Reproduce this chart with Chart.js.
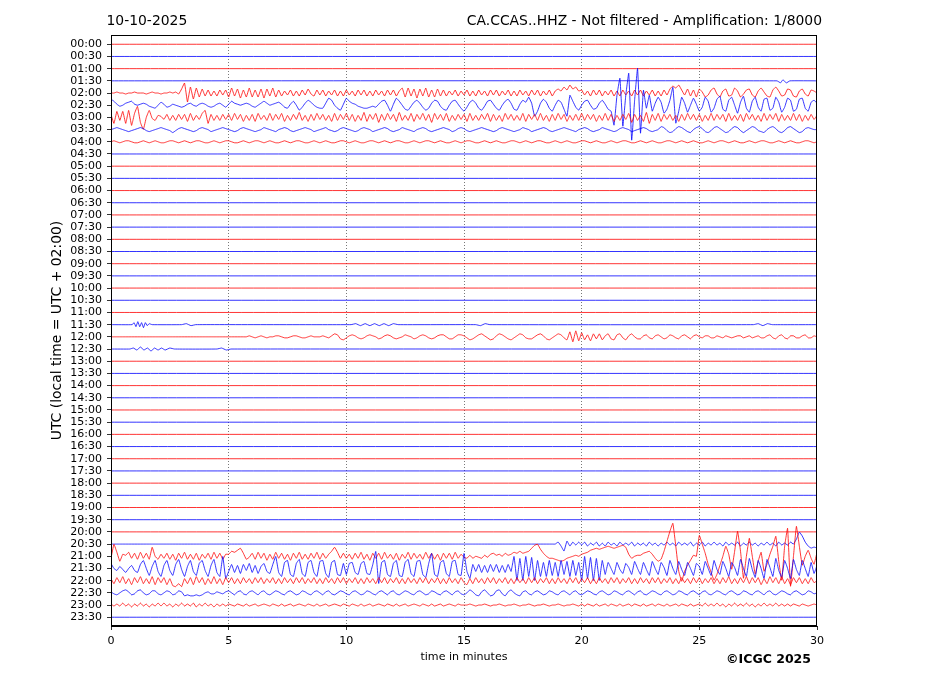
<!DOCTYPE html>
<html>
<head>
<meta charset="utf-8">
<script src="https://cdn.jsdelivr.net/npm/chart.js@4.4.1/dist/chart.umd.min.js"></script>
<style>
html,body{margin:0;padding:0;background:#fff;}
canvas{display:block;}
</style>
</head>
<body>
<canvas id="c" width="927" height="696"></canvas>
<script>
// ---------- labels ----------
const dateLabel = '10-10-2025';
const stationTitle = 'CA.CCAS..HHZ - Not filtered - Amplification: 1/8000';
const copyright = '\u00A9ICGC 2025';
const xTitle = 'time in minutes';
const yTitle = 'UTC (local time = UTC + 02:00)';
const hourLabels = ['00:00','00:30','01:00','01:30','02:00','02:30','03:00','03:30','04:00','04:30',
  '05:00','05:30','06:00','06:30','07:00','07:30','08:00','08:30','09:00','09:30','10:00','10:30',
  '11:00','11:30','12:00','12:30','13:00','13:30','14:00','14:30','15:00','15:30','16:00','16:30',
  '17:00','17:30','18:00','18:30','19:00','19:30','20:00','20:30','21:00','21:30','22:00','22:30',
  '23:00','23:30'];
const xTicks = [0,5,10,15,20,25,30];

// ---------- sampled amplitudes (counts, positive up), one sample each DT minutes ----------
const DT = 0.125;
const GAIN = 1 / 12.2; // counts -> trace spacing

const TR_0200 = [
 0,0,1,0,0,-1,0,0,1,0,0,0,-1,0,1,0,0,-1,0,0,1,0,1,-1,4,10,-9,6,-6,5,-4,4,-3,3,-3,2,-3,3,-2,3,
 -4,5,-3,4,-5,3,-4,5,-4,3,-4,4,-5,4,-3,5,-4,3,-3,2,-2,3,-3,2,-3,3,-2,4,-1,-3,3,-2,3,-3,2,-2,3,-3,2,-3,
 3,-2,2,-3,3,-2,3,-3,2,-3,3,-2,2,-3,3,-2,3,-3,2,5,-4,5,-3,4,-5,4,-3,5,-4,3,-4,4,-3,3,-3,2,-2,3,-3,2,
 -2,3,-3,2,-3,3,-2,2,-3,3,-2,3,-3,2,-2,3,-3,2,-3,3,-2,2,-3,3,-2,3,-3,2,-2,3,-3,2,4,2,6,3,8,4,6,2,
 3,-2,2,-3,3,-2,3,-3,2,-2,3,-3,2,-3,3,-2,2,-3,3,-2,3,-3,2,-2,3,-3,2,-3,3,-2,4,7,5,8,3,-2,4,-3,3,-4,
 4,1,-4,-2,3,5,-1,-4,2,4,-3,-2,5,2,-4,-1,3,4,-2,-4,2,5,1,-3,-4,3,6,2,-3,-2,4,3,-3,-4,2,4,-1,-3,3,2,0
];
const TR_0230 = [
 6,4,1,-1,0,2,3,4,1,0,1,2,1,-1,-2,-3,0,3,1,-2,-1,1,0,-1,-2,-1,1,2,0,-1,1,2,1,-1,-2,-1,1,2,0,-2,
 1,4,2,1,0,1,2,1,-1,-2,0,2,4,2,0,1,2,3,1,-2,-3,1,4,0,-5,-2,2,5,3,0,-2,-3,-3,2,7,5,0,-3,-5,1,
 7,4,2,1,-1,-2,-3,-3,-2,-1,-2,1,4,5,0,-6,1,7,4,0,-4,-5,-1,3,5,2,-2,-5,-3,2,5,4,-1,-4,-5,0,4,5,1,-3,
 -6,-2,3,5,2,-3,-5,-1,4,5,1,-3,-5,0,4,6,2,-4,-5,1,5,3,8,2,-11,-6,2,6,3,-3,-6,0,5,3,-4,-11,10,4,-2,-5,
 0,4,5,0,-4,-3,2,5,1,-4,-6,-20,10,27,-21,10,32,-35,5,37,-28,15,-3,10,-6,2,8,3,-8,-4,5,18,-18,-6,8,2,-7,0,7,1,
 -6,-2,8,4,-7,-3,6,9,-4,-6,5,8,0,-8,3,9,-3,-7,4,8,-2,-6,6,7,-5,-3,8,3,-7,-2,7,5,-6,-4,6,7,-3,-6,3,5,2
];
const TR_0300 = [
 3,-6,6,-3,6,-6,7,-8,4,11,-5,-12,0,7,-1,-3,2,1,-2,3,-3,2,-3,3,-2,3,-4,4,-3,2,-2,4,7,-6,3,-3,2,-3,3,-2,
 3,-3,4,-2,3,-4,2,-3,3,-4,4,-2,2,-3,4,-3,3,-2,4,-4,2,-3,3,-2,5,-3,2,-4,3,-3,4,-2,3,-3,2,-4,4,-3,3,-2,
 4,-3,3,-4,2,-3,5,-4,3,-2,4,-5,3,-3,4,-2,3,-4,5,-3,2,-3,4,-4,3,-2,4,-3,3,-5,4,-2,3,-3,4,-4,2,-3,3,-2,
 3,-4,4,-3,2,-3,3,-2,4,-4,3,-3,2,-4,4,-2,3,-3,2,-3,4,-4,3,-2,3,-3,4,-3,2,-4,3,-3,4,-2,3,-4,2,-3,3,-3,
 4,-3,3,-2,3,-4,2,-3,4,-3,3,-4,2,-3,3,-2,4,-5,3,-3,2,-4,5,-6,3,-3,4,-4,3,-2,3,-3,2,-4,3,-3,4,-2,3,-3,
 3,-4,2,-3,4,-3,3,-2,3,-4,4,-3,2,-3,3,-4,4,-2,3,-3,2,-4,4,-3,3,-2,4,-4,3,-3,2,-3,4,-3,3,-4,2,-3,3,-2,2
];
const TR_0330 = [
 0,1,2,1,0,-1,-2,-1,0,1,2,1,-1,-2,-1,0,1,2,1,0,-1,-3,-1,1,2,1,0,-1,-2,-1,1,2,1,0,-2,-1,0,1,2,1,
 0,-1,-2,-1,1,2,1,0,-1,-2,-1,0,2,1,0,-1,-2,0,1,2,1,-1,-2,-1,0,1,2,1,0,-2,-1,0,1,2,0,-1,-2,-1,1,2,
 1,0,-1,-2,-1,1,2,1,0,-2,-1,0,1,2,1,-1,-2,-1,0,2,1,0,-1,-2,0,1,2,1,-1,-2,-1,0,1,2,1,0,-2,-1,1,2,
 1,-1,-2,-1,0,1,2,1,0,-1,-2,-1,1,2,1,0,-1,-2,-1,0,2,1,0,-2,-1,0,1,2,1,-1,-2,-1,0,1,2,1,0,-1,-2,0,
 1,2,1,-1,-2,-1,0,2,1,0,-1,-2,-1,1,2,1,0,-2,-1,0,1,2,1,-1,-2,-1,0,3,2,-1,-3,-2,1,3,2,0,-2,-3,0,2,
 3,1,-2,-3,-1,2,3,1,-1,-3,-2,1,3,2,-1,-3,-1,1,3,2,-1,-2,-3,0,2,3,1,-2,-3,-1,2,3,1,-1,-3,-2,1,2,1,0,0
];
const TR_0400 = [
 0,1,0,-1,0,1,1,0,-1,-1,0,1,0,-1,0,1,0,-1,-1,0,1,1,0,-1,0,1,0,-1,0,1,1,0,-1,-1,0,1,0,-1,0,1,
 1,0,-1,-1,0,1,0,-1,0,1,1,0,-1,0,1,0,-1,-1,0,1,0,-1,0,1,1,0,-1,-1,0,1,0,-1,0,1,0,-1,-1,0,1,1,
 0,-1,0,1,0,-1,-1,0,1,1,0,-1,0,1,0,-1,0,1,1,0,-1,-1,0,1,0,-1,0,1,1,0,-1,0,1,0,-1,-1,0,1,0,-1,
 0,1,1,0,-1,-1,0,1,0,-1,0,1,0,-1,-1,0,1,1,0,-1,0,1,0,-1,0,1,1,0,-1,-1,0,1,0,-1,0,1,0,-1,-1,0,
 1,1,0,-1,0,1,0,-1,-1,0,1,0,-1,0,1,1,0,-1,-1,0,1,0,-1,0,1,0,-1,-1,0,1,1,0,-1,0,1,0,-1,0,1,0,
 -1,-1,0,1,0,-1,0,1,1,0,-1,0,1,0,-1,-1,0,1,0,-1,0,1,1,0,-1,-1,0,1,0,-1,0,1,0,-1,-1,0,1,1,0,-1,0
];
const TR_1200 = [
 0,0,0,0,0,0,0,0,0,0,0,0,0,0,0,0,0,0,0,0,0,0,0,0,0,0,0,0,0,0,0,0,0,0,0,0,0,0,0,0,
 0,0,0,0,0,0,0,1,0,-1,0,1,0,-1,0,0,1,1,0,-1,-1,0,1,1,0,-1,-1,0,1,0,0,0,1,0,-1,1,3,2,-2,-3,
 -1,1,2,1,-1,-2,-1,1,2,1,0,-2,-1,1,2,1,-1,-2,-1,0,2,1,0,-2,-1,1,2,1,-1,-2,-1,1,2,2,0,-2,-2,0,2,2,
 1,-1,-3,-2,0,2,3,1,-1,-3,-2,1,3,2,0,-2,-3,-1,1,3,2,-1,-2,-2,0,2,3,1,-2,-3,-1,1,3,2,-1,-3,5,-5,6,-4,
 4,-3,2,-4,3,-2,3,-3,1,3,-2,-3,2,3,-1,-3,1,3,0,-2,-2,1,2,-1,-2,1,2,0,-2,-1,2,1,-1,-2,1,2,0,-2,1,2,
 0,-1,1,1,-1,-1,1,0,-1,1,0,-1,0,1,1,-1,0,1,-1,0,1,-1,-1,1,2,-1,-2,1,2,-1,-2,1,1,-1,-1,1,2,-1,-1,1,0
];
const TR_2030 = [
 0,0,0,0,0,0,0,0,0,0,0,0,0,0,0,0,0,0,0,0,0,0,0,0,0,0,0,0,0,0,0,0,0,0,0,0,0,0,0,0,
 0,0,0,0,0,0,0,0,0,0,0,0,0,0,0,0,0,0,0,0,0,0,0,0,0,0,0,0,0,0,0,0,0,0,0,0,0,0,0,0,
 0,0,0,0,0,0,0,0,0,0,0,0,0,0,0,0,0,0,0,0,0,0,0,0,0,0,0,0,0,0,0,0,0,0,0,0,0,0,0,0,
 0,0,0,0,0,0,0,0,0,0,0,0,0,0,0,0,0,0,0,0,0,0,0,0,0,0,0,0,0,0,0,0,2,-2,-7,3,-2,2,-1,2,
 -1,2,-2,1,-1,2,-2,1,-2,2,-1,1,-2,2,-1,1,-1,2,-2,1,-1,1,-2,2,-1,1,-2,1,-1,2,-1,1,-2,2,-1,1,-1,2,-2,1,
 -1,2,-2,1,-1,2,-1,1,-2,2,-1,1,-1,2,-2,1,-1,2,-1,1,-2,1,-1,2,-1,1,-2,2,-1,1,-1,2,0,5,12,8,2,-2,-4,-3,-4
];
const TR_2100 = [
 -2,12,4,-5,2,1,4,-2,3,-3,4,-2,3,-3,9,0,-3,2,-2,3,-3,2,-4,3,-2,4,-3,2,-3,3,-4,2,-2,3,-3,4,-2,3,-3,2,
 2,5,4,6,8,3,-3,-1,3,-3,4,-2,3,-4,2,-3,4,-2,3,-3,2,-4,3,-2,4,-3,2,-3,3,-2,4,-3,3,-2,2,5,9,4,-2,3,
 -2,2,-3,3,-2,4,-3,2,-4,3,-2,3,-3,4,-2,2,-3,3,-4,2,-2,4,-3,3,-2,2,-3,4,-2,3,-3,2,-4,3,-2,3,-3,4,-2,2,
 -1,-2,1,-2,0,-1,-2,1,-1,2,3,1,2,0,3,1,2,4,3,5,3,4,5,8,11,12,7,3,0,-2,-2,-3,-4,-5,-4,-2,-1,0,1,0,
 2,3,4,6,7,8,7,8,9,10,9,8,9,10,11,9,2,-2,0,1,1,3,4,5,2,-2,-5,-3,5,15,25,33,10,-15,-25,-15,-9,-4,1,0,
 21,12,3,-8,-16,-24,-18,-9,0,10,2,-13,5,25,5,-22,0,18,0,-18,-5,4,-15,-8,2,10,20,-5,-24,10,28,-30,0,30,10,-9,0,6,-2,-8,4
];
const TR_2130 = [
 5,0,-2,2,-1,-4,0,3,-2,-4,4,8,0,-7,2,8,-3,-8,3,8,-2,-7,4,9,-1,-8,2,8,-3,-7,5,8,-2,-8,3,9,-4,-8,12,-10,
 -3,4,-4,3,-5,4,-2,5,-4,3,-5,2,5,-3,-5,4,12,-4,-8,6,8,-6,-8,5,9,-5,-8,6,8,-4,-8,7,8,-5,-9,6,8,-6,-7,5,
 -6,5,6,-4,-6,5,7,-5,-6,4,17,-15,6,8,-6,-8,5,8,-7,-8,6,9,-5,-8,7,8,-6,-9,5,15,-6,-8,6,8,-5,-8,7,8,-6,-7,
 15,-3,-10,4,-3,4,-4,3,-4,4,-3,4,-4,3,-4,4,-3,12,-12,10,-12,12,-8,11,-12,8,-8,6,-8,8,-7,6,-8,8,-6,7,-8,8,-7,6,
 -12,12,-10,11,-12,10,-12,8,-6,6,0,-6,6,-1,-5,5,1,-6,7,0,-6,6,-1,-7,7,0,-6,6,1,-7,8,0,-6,7,-1,-7,6,0,-7,5,
 2,-6,7,0,-7,8,-1,-6,7,0,-8,6,1,-7,9,0,-8,10,-1,-9,8,0,-10,9,1,-8,10,-2,-9,8,0,-10,9,-1,-7,8,0,-8,6,-5,3
];
const TR_2200 = [
 2,-3,3,-2,4,-3,2,-4,3,-2,4,-3,2,-3,4,-4,3,-2,3,-4,2,-5,-6,-3,-6,2,-3,3,-4,4,-2,3,-4,2,-3,4,-3,2,-4,3,
 -2,3,-3,2,-3,3,-2,2,-3,3,-2,3,-3,2,-2,3,-3,2,-3,3,-2,2,-3,3,-2,3,-3,2,-2,3,-3,2,-3,3,-2,2,-3,3,-2,3,
 -3,2,-2,3,-3,2,-3,3,-2,2,-3,3,-2,3,-3,2,-2,3,-3,2,-3,3,-2,2,-3,3,-2,3,-3,2,-2,3,-3,2,-3,3,-2,2,-3,3,
 -2,-4,2,-3,3,-2,2,-3,3,-2,3,-3,2,-2,3,-3,2,-3,3,-2,2,-3,3,-2,3,-3,2,-2,3,-3,2,-3,3,-2,2,-3,3,-2,3,-3,
 2,-2,3,-3,2,-3,3,-2,2,-3,3,-2,3,-3,2,-2,3,-3,2,-3,3,-2,2,-3,3,-2,3,-3,2,-2,3,-3,2,-3,3,-2,2,-3,3,-2,
 3,-3,2,-2,3,-3,2,-3,3,-2,4,-3,2,-3,3,-2,4,-3,3,-2,3,-4,2,-3,4,-2,3,-3,4,-3,2,-4,3,-2,3,-3,2,-3,3,-2,0
];
const TR_2230 = [
 1,-1,-2,0,2,3,1,-2,-1,2,3,0,-2,-1,2,2,-1,-2,0,2,1,-2,-1,2,1,-3,-2,-3,-3,-2,-3,-2,0,1,-1,-1,1,0,-1,1,
 2,0,-2,1,2,-1,-2,1,2,0,-2,1,2,-1,-2,0,2,1,-1,-2,1,2,0,-2,-1,2,1,-1,-2,1,2,0,-2,1,2,-1,-2,0,2,1,
 -1,-2,1,2,0,-2,-1,2,1,-1,-2,1,2,0,-2,1,2,-1,-2,0,2,1,-1,-2,1,2,0,-2,-1,2,1,-1,-2,1,2,0,-2,1,2,-1,
 -2,0,3,1,-2,-3,1,3,0,-3,-2,2,3,-1,-3,1,3,0,-2,-3,1,2,-1,-2,1,2,0,-2,-1,2,1,-1,-2,1,2,0,-2,1,2,-1,
 -2,0,2,1,-1,-2,1,2,0,-2,-1,2,1,-1,-2,1,2,0,-2,1,2,-1,-2,0,2,1,-1,-2,1,2,0,-2,-1,2,1,-1,-2,1,2,0,
 -2,1,2,-1,-2,0,2,1,-1,-2,1,2,0,-2,-1,2,1,-1,-2,1,2,0,-2,1,2,-1,-2,0,2,1,-1,-2,1,2,0,-2,-1,2,1,-1,0
];
const TR_2300 = [
 1,-1,1,-1,2,-1,1,-2,1,-1,2,-1,1,-2,1,-1,2,-1,2,-1,1,-2,1,-1,2,-1,1,-1,2,-2,1,-1,2,-1,1,-2,1,-1,1,-1,
 1,0,-1,1,0,-1,1,-1,0,1,-1,0,1,0,-1,1,0,-1,1,-1,0,1,-1,0,1,0,-1,1,0,-1,1,-1,0,1,-1,0,1,0,-1,1,
 0,-1,1,0,-1,1,-1,0,1,-1,0,1,0,-1,1,0,-1,1,-1,0,1,-1,0,1,0,-1,1,0,-1,1,-1,0,1,-1,0,1,0,-1,1,0,
 0,0,1,0,-1,0,0,1,0,-1,0,0,1,0,-1,0,0,1,0,-1,0,0,1,0,-1,0,0,1,0,-1,0,0,1,0,-1,0,0,1,0,-1,
 1,-1,1,0,-1,1,-1,0,1,-1,1,0,-1,1,-1,0,1,-1,1,0,-1,1,-1,0,1,-1,1,0,-1,1,-1,0,1,-1,1,0,-1,1,-1,0,
 1,-1,2,-1,1,-1,2,-1,1,-2,1,-1,2,-1,1,-1,2,-1,1,-2,1,-1,2,-1,1,-1,2,-1,1,-1,1,-1,1,0,-1,1,0,-1,0,1,0
];

// ---------- sparse traces: [minute, counts] ----------
const SP_0130 = [[0,0],[28.3,0],[28.45,-2],[28.55,1],[28.7,-2],[28.85,0],[30,0]];
const SP_1130 = [[0,0],[0.9,0],[0.98,2],[1.06,-2],[1.14,3],[1.22,-2],[1.3,2],[1.38,-3],[1.46,2],[1.54,-1],
  [1.62,1],[1.75,0],[3,0],[3.2,1],[3.4,-1],[3.6,0],[10.2,0],[10.4,1],[10.6,-1],[10.8,1],[11.0,-1],[11.2,1],
  [11.4,-1],[11.6,1],[11.8,-1],[12.0,1],[12.2,0],[15.5,0],[15.7,-1],[15.9,1],[16.1,0],[27.3,0],[27.5,1],
  [27.7,-1],[27.9,1],[28.1,0],[30,0]];
const SP_1230 = [[0,0],[0.8,0],[0.95,1],[1.1,-1],[1.25,2],[1.4,-1],[1.55,1],[1.7,-2],[1.85,1],[2.0,-1],
  [2.15,1],[2.3,-1],[2.5,1],[2.7,0],[4.5,0],[4.7,1],[4.9,-1],[5.1,0],[30,0]];

const denseTraces = {4:TR_0200, 5:TR_0230, 6:TR_0300, 7:TR_0330, 8:TR_0400, 24:TR_1200,
  41:TR_2030, 42:TR_2100, 43:TR_2130, 44:TR_2200, 45:TR_2230, 46:TR_2300};
const sparseTraces = {3:SP_0130, 23:SP_1130, 25:SP_1230};

// ---------- build datasets ----------
const RED = '#ff0000', BLUE = '#0000ff';
const datasets = hourLabels.map((lab, i) => {
  let pts;
  if (denseTraces[i]) pts = denseTraces[i].map((a, k) => ({x: k * DT, y: i - a * GAIN}));
  else if (sparseTraces[i]) pts = sparseTraces[i].map(p => ({x: p[0], y: i - p[1] * GAIN}));
  else pts = [{x: 0, y: i}, {x: 30, y: i}];
  return {
    label: lab, data: pts, borderColor: i % 2 === 0 ? RED : BLUE,
    borderWidth: 0.8, pointRadius: 0, showLine: true, fill: false,
    tension: 0.1, order: 47 - i
  };
});

const FONT = 'DejaVu Sans';
Chart.defaults.font.family = FONT;
Chart.defaults.color = '#000';

const decor = {
  id: 'decor',
  afterDraw(chart) {
    const ctx = chart.ctx, a = chart.chartArea;
    ctx.save();
    ctx.setLineDash([]);
    ctx.strokeStyle = '#000';
    ctx.lineWidth = 1;
    ctx.strokeRect(a.left + 0.5, a.top + 0.5, a.right - a.left - 1, a.bottom - a.top - 1);
    ctx.fillStyle = '#000';
    ctx.font = '13.9px "' + FONT + '"';
    ctx.textBaseline = 'alphabetic';
    ctx.textAlign = 'left';
    ctx.fillText(dateLabel, 106.5, 25);
    ctx.textAlign = 'right';
    ctx.fillText(stationTitle, 822, 25);
    ctx.font = 'bold 12.5px "' + FONT + '"';
    ctx.fillText(copyright, 811, 663);
    ctx.restore();
  }
};

new Chart(document.getElementById('c'), {
  type: 'scatter',
  data: {datasets},
  options: {
    responsive: false, animation: false, devicePixelRatio: 1,
    layout: {padding: {left: 40, right: 110, top: 35, bottom: 30}},
    plugins: {legend: {display: false}, tooltip: {enabled: false}, title: {display: false}},
    scales: {
      x: {
        type: 'linear', min: 0, max: 30,
        afterBuildTicks: s => { s.ticks = xTicks.map(v => ({value: v})); },
        ticks: {font: {size: 11.1}, color: '#000', padding: 4, maxRotation: 0, autoSkip: false},
        grid: {
          color: c => (c.tick && (c.tick.value === 0 || c.tick.value === 30)) ? 'rgba(0,0,0,0)' : '#555',
          lineWidth: 0.8, tickColor: '#000', tickLength: 4, tickWidth: 0.8
        },
        border: {display: true, color: '#000', width: 1, dash: [1, 2]},
        title: {display: true, text: xTitle, font: {size: 11.1}, color: '#000', padding: {top: 0, bottom: 2}},
        afterFit: s => { s.height = 40; }
      },
      y: {
        type: 'linear', reverse: true, min: -0.76, max: 47.72,
        afterBuildTicks: s => { s.ticks = hourLabels.map((_, i) => ({value: i})); },
        ticks: {autoSkip: false, font: {size: 11}, color: '#000', padding: 5,
          callback: v => hourLabels[Math.round(v)]},
        grid: {drawOnChartArea: false, tickLength: 4, tickColor: '#000', tickWidth: 0.8},
        border: {display: true, color: '#000', width: 1},
        title: {display: true, text: yTitle, font: {size: 13.9}, color: '#000', padding: {top: 9, bottom: 0}},
        afterFit: s => { s.width = 71; }
      }
    }
  },
  plugins: [decor]
});
</script>
</body>
</html>
